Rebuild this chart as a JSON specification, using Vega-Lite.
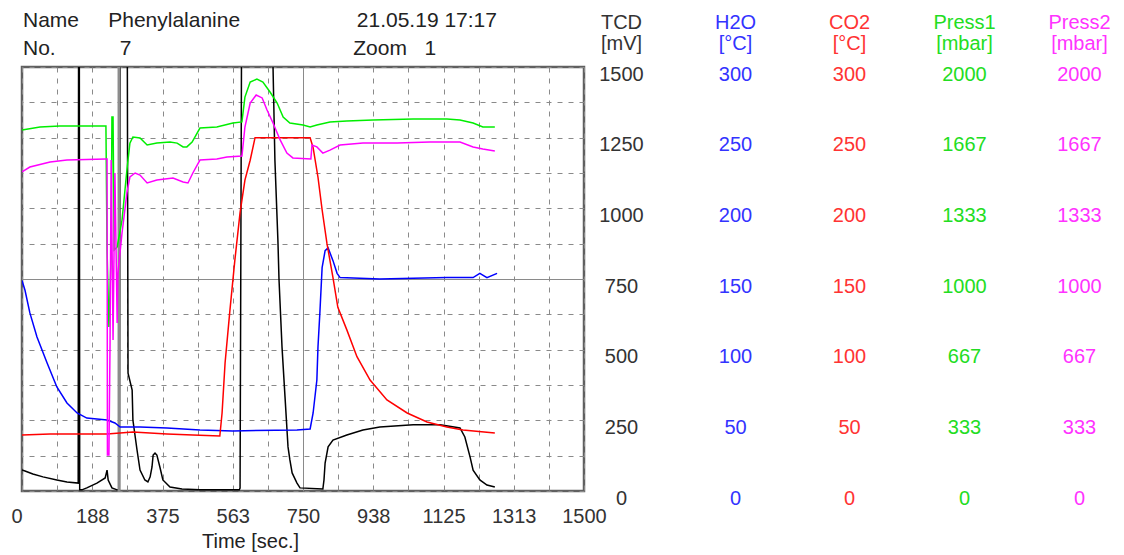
{
  "$schema": "https://vega.github.io/schema/vega-lite/v6.json",
  "width": 562,
  "height": 424,
  "autosize": "none",
  "padding": {"left": 22, "top": 67, "right": 540, "bottom": 64},
  "background": "white",
  "config": {
    "view": {"stroke": "#606060", "strokeWidth": 2.5},
    "font": "Liberation Sans",
    "axis": {"labelFont": "Liberation Sans", "titleFont": "Liberation Sans", "labelFontSize": 20, "titleFontSize": 20, "titleFontWeight": "normal", "domain": false, "ticks": false, "tickSize": 0, "labelOverlap": false, "labelFlush": false}
  },
  "title": {
    "text": ["Name\u00a0\u00a0\u00a0\u00a0\u00a0Phenylalanine\u00a0\u00a0\u00a0\u00a0\u00a0\u00a0\u00a0\u00a0\u00a0\u00a0\u00a0\u00a0\u00a0\u00a0\u00a0\u00a0\u00a0\u00a0\u00a0\u00a021.05.19\u00a017:17", "No.\u00a0\u00a0\u00a0\u00a0\u00a0\u00a0\u00a0\u00a0\u00a0\u00a0\u00a07\u00a0\u00a0\u00a0\u00a0\u00a0\u00a0\u00a0\u00a0\u00a0\u00a0\u00a0\u00a0\u00a0\u00a0\u00a0\u00a0\u00a0\u00a0\u00a0\u00a0\u00a0\u00a0\u00a0\u00a0\u00a0\u00a0\u00a0\u00a0\u00a0\u00a0\u00a0\u00a0\u00a0\u00a0\u00a0\u00a0\u00a0\u00a0Zoom\u00a0\u00a0\u00a01"],
    "anchor": "start", "frame": "group", "font": "Liberation Sans", "fontSize": 21, "fontWeight": "normal", "color": "#222", "lineHeight": 28, "offset": 12, "dx": 1, "dy": 76, "baseline": "alphabetic"
  },
  "datasets": {
    "tcd": [
      {"t":0,"v":74},{"t":8,"v":71},{"t":29,"v":60},{"t":56,"v":50},{"t":93,"v":39},{"t":120,"v":32},{"t":150,"v":28},{"t":151,"v":1600},{"t":153,"v":1600},{"t":154,"v":4},{"t":160,"v":4},{"t":173,"v":11},{"t":200,"v":28},{"t":222,"v":46},{"t":227,"v":74},{"t":230,"v":39},{"t":240,"v":11},{"t":254,"v":4},{"t":260,"v":4},{"t":262,"v":1600},{"t":281,"v":1600},{"t":283,"v":417},{"t":294,"v":357},{"t":296,"v":251},{"t":307,"v":145},{"t":315,"v":74},{"t":328,"v":39},{"t":336,"v":32},{"t":342,"v":50},{"t":347,"v":85},{"t":350,"v":127},{"t":355,"v":134},{"t":360,"v":127},{"t":368,"v":85},{"t":376,"v":39},{"t":395,"v":14},{"t":427,"v":7},{"t":475,"v":4},{"t":580,"v":4},{"t":582,"v":10},{"t":586,"v":1600},{"t":668,"v":1600},{"t":670,"v":1500},{"t":675,"v":1171},{"t":683,"v":888},{"t":686,"v":747},{"t":694,"v":509},{"t":702,"v":333},{"t":710,"v":156},{"t":715,"v":110},{"t":721,"v":64},{"t":734,"v":28},{"t":742,"v":11},{"t":803,"v":7},{"t":806,"v":39},{"t":809,"v":99},{"t":817,"v":156},{"t":830,"v":180},{"t":867,"v":198},{"t":910,"v":216},{"t":955,"v":226},{"t":1044,"v":234},{"t":1116,"v":234},{"t":1169,"v":223},{"t":1182,"v":191},{"t":1196,"v":120},{"t":1204,"v":74},{"t":1222,"v":39},{"t":1241,"v":21},{"t":1262,"v":14}
    ],
    "h2o": [
      {"t":0,"v":149},{"t":8,"v":142},{"t":21,"v":126},{"t":40,"v":109},{"t":67,"v":90.6},{"t":93,"v":73.6},{"t":120,"v":62.3},{"t":147,"v":55.2},{"t":173,"v":51.6},{"t":227,"v":50.2},{"t":248,"v":48.1},{"t":262,"v":45.3},{"t":315,"v":45.3},{"t":387,"v":44.6},{"t":475,"v":43.2},{"t":563,"v":42.5},{"t":734,"v":43.2},{"t":769,"v":43.9},{"t":777,"v":55.2},{"t":787,"v":78.5},{"t":790,"v":102},{"t":795,"v":126},{"t":801,"v":158},{"t":809,"v":170},{"t":817,"v":172},{"t":830,"v":163},{"t":841,"v":154},{"t":849,"v":151},{"t":955,"v":150},{"t":1134,"v":151},{"t":1204,"v":151},{"t":1222,"v":154},{"t":1241,"v":151},{"t":1268,"v":154}
    ],
    "co2": [
      {"t":0,"v":39.6},{"t":75,"v":40.3},{"t":227,"v":40.3},{"t":296,"v":41.7},{"t":387,"v":40.3},{"t":456,"v":39.6},{"t":528,"v":38.9},{"t":534,"v":55.2},{"t":542,"v":90.6},{"t":555,"v":128},{"t":568,"v":163},{"t":582,"v":197},{"t":595,"v":220},{"t":609,"v":234},{"t":622,"v":250},{"t":635,"v":250},{"t":769,"v":250},{"t":777,"v":243},{"t":790,"v":222},{"t":801,"v":199},{"t":814,"v":175},{"t":830,"v":151},{"t":843,"v":130},{"t":867,"v":114},{"t":894,"v":95},{"t":929,"v":78.5},{"t":974,"v":64.4},{"t":1028,"v":55.2},{"t":1081,"v":48.8},{"t":1134,"v":45.3},{"t":1177,"v":43.2},{"t":1262,"v":41}
    ],
    "press1": [
      {"t":0,"v":1703},{"t":48,"v":1717},{"t":101,"v":1722},{"t":224,"v":1722},{"t":227,"v":1137},{"t":232,"v":774},{"t":238,"v":1123},{"t":240,"v":1764},{"t":243,"v":1764},{"t":246,"v":1137},{"t":254,"v":1151},{"t":267,"v":1278},{"t":280,"v":1514},{"t":288,"v":1641},{"t":296,"v":1670},{"t":315,"v":1665},{"t":334,"v":1632},{"t":360,"v":1641},{"t":395,"v":1646},{"t":414,"v":1641},{"t":430,"v":1623},{"t":440,"v":1623},{"t":454,"v":1646},{"t":475,"v":1712},{"t":520,"v":1717},{"t":563,"v":1736},{"t":587,"v":1741},{"t":595,"v":1858},{"t":609,"v":1929},{"t":627,"v":1943},{"t":643,"v":1929},{"t":662,"v":1882},{"t":681,"v":1830},{"t":697,"v":1764},{"t":715,"v":1736},{"t":750,"v":1726},{"t":769,"v":1717},{"t":787,"v":1726},{"t":822,"v":1741},{"t":867,"v":1745},{"t":937,"v":1750},{"t":1044,"v":1755},{"t":1134,"v":1755},{"t":1169,"v":1750},{"t":1204,"v":1736},{"t":1230,"v":1717},{"t":1262,"v":1717}
    ],
    "press2": [
      {"t":0,"v":1505},{"t":21,"v":1528},{"t":75,"v":1552},{"t":120,"v":1561},{"t":224,"v":1566},{"t":227,"v":1566},{"t":228,"v":170},{"t":232,"v":170},{"t":235,"v":698},{"t":238,"v":1561},{"t":243,"v":712},{"t":248,"v":1500},{"t":254,"v":792},{"t":256,"v":1028},{"t":267,"v":1217},{"t":280,"v":1406},{"t":288,"v":1481},{"t":302,"v":1500},{"t":315,"v":1490},{"t":334,"v":1453},{"t":360,"v":1467},{"t":403,"v":1476},{"t":430,"v":1458},{"t":443,"v":1453},{"t":456,"v":1500},{"t":475,"v":1561},{"t":520,"v":1566},{"t":547,"v":1575},{"t":587,"v":1580},{"t":595,"v":1717},{"t":609,"v":1830},{"t":625,"v":1868},{"t":641,"v":1854},{"t":654,"v":1797},{"t":670,"v":1736},{"t":689,"v":1656},{"t":707,"v":1594},{"t":723,"v":1571},{"t":771,"v":1566},{"t":774,"v":1632},{"t":787,"v":1623},{"t":803,"v":1594},{"t":822,"v":1608},{"t":849,"v":1632},{"t":910,"v":1641},{"t":1001,"v":1641},{"t":1089,"v":1646},{"t":1169,"v":1646},{"t":1204,"v":1623},{"t":1230,"v":1613},{"t":1262,"v":1604}
    ],
    "markers": [{"t":259}]
  },
  "encoding": {
    "x": {
      "field": "t", "type": "quantitative",
      "scale": {"domain": [0, 1500], "nice": false, "zero": false},
      "axis": {
        "values": [0,93.75,187.5,281.25,375,468.75,562.5,656.25,750,843.75,937.5,1031.25,1125,1218.75,1312.5,1406.25,1500],
        "labelExpr": "datum.value % 187.5 == 0 ? format(datum.value, '.0f') : ''",
        "grid": true, "gridColor": "#8a8a8a", "gridWidth": 1,
        "gridDash": {"condition": {"test": "datum.value == 750", "value": []}, "value": [5, 6]},
        "labelAlign": {"condition": {"test": "datum.value == 0", "value": "right"}, "value": "center"},
        "labelBaseline": "alphabetic", "labelPadding": 31, "labelColor": "#333",
        "title": "Time [sec.]", "titleX": 228, "titleY": 56, "titleAlign": "center", "titleBaseline": "alphabetic", "titleColor": "#222"
      }
    }
  },
  "layer": [
    {
      "data": {"name": "tcd"},
      "mark": {"type": "line", "color": "#000000", "strokeWidth": 1.5, "clip": true},
      "encoding": {
        "y": {
          "field": "v", "type": "quantitative", "scale": {"domain": [0, 1500], "nice": false, "zero": false},
          "axis": {
            "orient": "right",
            "values": [0,125,250,375,500,625,750,875,1000,1125,1250,1375,1500],
            "labelExpr": "datum.value % 250 == 0 ? format(datum.value, 'd') : ''",
            "grid": true, "gridColor": "#8a8a8a", "gridWidth": 1,
            "gridDash": {"condition": {"test": "datum.value == 750", "value": []}, "value": [5, 6]},
            "labelAlign": "center", "labelBaseline": "alphabetic", "labelPadding": 37, "labelOffset": 13, "labelColor": "#333",
            "title": ["TCD", "[mV]"], "titleAngle": 0, "titleX": 37, "titleY": -39, "titleAlign": "center", "titleBaseline": "alphabetic", "titleLineHeight": 21, "titleColor": "#333"
          }
        }
      }
    },
    {
      "data": {"name": "markers"},
      "mark": {"type": "rule", "color": "#8c8c8c", "strokeWidth": 3},
      "encoding": {}
    },
    {
      "data": {"name": "h2o"},
      "mark": {"type": "line", "color": "#0000ff", "strokeWidth": 1.5, "clip": true},
      "encoding": {
        "y": {
          "field": "v", "type": "quantitative", "scale": {"domain": [0, 300], "nice": false, "zero": false},
          "axis": {
            "orient": "right", "values": [0,50,100,150,200,250,300], "grid": false,
            "labelAlign": "center", "labelBaseline": "alphabetic", "labelPadding": 151, "labelOffset": 13, "labelColor": "#3333ff",
            "title": ["H2O", "[°C]"], "titleAngle": 0, "titleX": 151, "titleY": -39, "titleAlign": "center", "titleBaseline": "alphabetic", "titleLineHeight": 21, "titleColor": "#3333ff"
          }
        }
      }
    },
    {
      "data": {"name": "co2"},
      "mark": {"type": "line", "color": "#ff0000", "strokeWidth": 1.5, "clip": true},
      "encoding": {
        "y": {
          "field": "v", "type": "quantitative", "scale": {"domain": [0, 300], "nice": false, "zero": false},
          "axis": {
            "orient": "right", "values": [0,50,100,150,200,250,300], "grid": false,
            "labelAlign": "center", "labelBaseline": "alphabetic", "labelPadding": 265, "labelOffset": 13, "labelColor": "#ff3333",
            "title": ["CO2", "[°C]"], "titleAngle": 0, "titleX": 265, "titleY": -39, "titleAlign": "center", "titleBaseline": "alphabetic", "titleLineHeight": 21, "titleColor": "#ff3333"
          }
        }
      }
    },
    {
      "data": {"name": "press1"},
      "mark": {"type": "line", "color": "#00ee00", "strokeWidth": 1.5, "clip": true},
      "encoding": {
        "y": {
          "field": "v", "type": "quantitative", "scale": {"domain": [0, 2000], "nice": false, "zero": false},
          "axis": {
            "orient": "right", "values": [0,333.3333,666.6667,1000,1333.3333,1666.6667,2000], "format": ".0f", "grid": false,
            "labelAlign": "center", "labelBaseline": "alphabetic", "labelPadding": 380, "labelOffset": 13, "labelColor": "#22dd22",
            "title": ["Press1", "[mbar]"], "titleAngle": 0, "titleX": 380, "titleY": -39, "titleAlign": "center", "titleBaseline": "alphabetic", "titleLineHeight": 21, "titleColor": "#22dd22"
          }
        }
      }
    },
    {
      "data": {"name": "press2"},
      "mark": {"type": "line", "color": "#ff00ff", "strokeWidth": 1.5, "clip": true},
      "encoding": {
        "y": {
          "field": "v", "type": "quantitative", "scale": {"domain": [0, 2000], "nice": false, "zero": false},
          "axis": {
            "orient": "right", "values": [0,333.3333,666.6667,1000,1333.3333,1666.6667,2000], "format": ".0f", "grid": false,
            "labelAlign": "center", "labelBaseline": "alphabetic", "labelPadding": 495, "labelOffset": 13, "labelColor": "#ff33ff",
            "title": ["Press2", "[mbar]"], "titleAngle": 0, "titleX": 495, "titleY": -39, "titleAlign": "center", "titleBaseline": "alphabetic", "titleLineHeight": 21, "titleColor": "#ff33ff"
          }
        }
      }
    }
  ],
  "resolve": {"scale": {"y": "independent"}, "axis": {"y": "independent"}}
}
